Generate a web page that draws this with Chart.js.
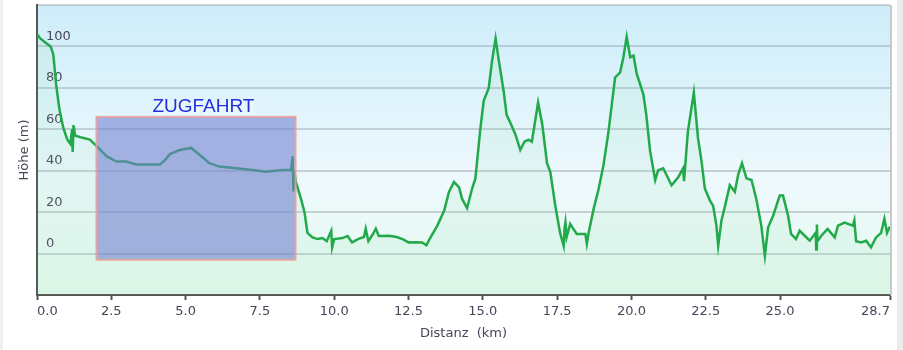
<!DOCTYPE html>
<html>
<head>
<meta charset="utf-8">
<script src="https://cdn.jsdelivr.net/npm/chart.js@4/dist/chart.umd.min.js"></script>
<style>
  html, body { margin: 0; padding: 0; background: #fff; }
</style>
</head>
<body>
<canvas id="profil-chart" width="903" height="350"></canvas>
<script>
// Höhenprofil: Distanz in km, Höhe in m
const distKm = [
  0.00, 0.10, 0.27, 0.46, 0.55, 0.64, 0.75, 0.88, 1.02, 1.12, 1.18, 1.20, 1.23, 1.28, 1.50, 1.78,
  2.00, 2.34, 2.67, 3.00, 3.35, 3.80, 4.13, 4.30, 4.47, 4.80, 5.19, 5.47, 5.80, 6.14, 6.70, 7.26,
  7.70, 8.26, 8.55, 8.60, 8.63, 8.66, 8.71, 8.88, 9.00, 9.10, 9.27, 9.44, 9.60, 9.75, 9.90, 9.93,
  10.00, 10.28, 10.45, 10.60, 10.80, 11.00, 11.06, 11.15, 11.30, 11.40, 11.50, 11.85, 12.10, 12.30,
  12.50, 12.70, 12.96, 13.10, 13.24, 13.47, 13.70, 13.86, 14.03, 14.20, 14.30, 14.47, 14.64, 14.75,
  14.92, 15.03, 15.20, 15.31, 15.43, 15.54, 15.70, 15.80, 15.93, 16.10, 16.26, 16.40, 16.54, 16.65,
  16.86, 17.00, 17.16, 17.27, 17.44, 17.60, 17.72, 17.75, 17.78, 17.82, 17.94, 18.16, 18.45, 18.50,
  18.56, 18.73, 18.90, 19.06, 19.23, 19.34, 19.45, 19.62, 19.73, 19.84, 19.96, 20.07, 20.18, 20.40,
  20.50, 20.63, 20.80, 20.90, 21.07, 21.35, 21.58, 21.74, 21.77, 21.90, 22.10, 22.24, 22.36, 22.47,
  22.64, 22.75, 22.86, 22.92, 23.03, 23.14, 23.31, 23.48, 23.59, 23.72, 23.87, 24.04, 24.20, 24.37,
  24.49, 24.60, 24.77, 24.99, 25.10, 25.27, 25.37, 25.54, 25.66, 25.83, 26.00, 26.20, 26.22, 26.24,
  26.26, 26.39, 26.60, 26.84, 26.95, 27.17, 27.45, 27.50, 27.56, 27.73, 27.90, 28.06, 28.23, 28.40,
  28.51, 28.60, 28.66, 28.70
];
const hoeheM = [
  106, 104, 102, 100, 96, 82, 70, 61, 55, 53, 60, 49, 62, 57, 56, 55,
  52, 47, 44.4, 44.4, 43, 43, 43, 45, 48, 50, 51, 47.7, 43.6, 42, 41.2, 40.3,
  39.5, 40.3, 40.3, 47, 30, 40, 34.6, 26.5, 20, 10, 7.8, 7, 7.5, 6, 11, 3,
  7, 7.5, 8.5, 5.4, 7, 8, 12, 6, 9.3, 12, 8.5, 8.6, 8, 7,
  5.4, 5.5, 5.4, 4, 7.8, 13.5, 20.8, 29.8, 34.6, 32, 26.5, 22, 31.4, 36.3,
  60.7, 73.7, 80, 93, 103.8, 93, 78.5, 67, 63, 57.4, 50, 54, 55, 54,
  72.9, 62.3, 43.6, 39.5, 23, 10, 3.8, 12, 15, 8, 14.3, 9.5, 9.5, 4.7,
  10, 21.7, 31.4, 42.8, 59, 72, 85, 87.5, 94.8, 104.6, 94.8, 95.6, 86.7, 77,
  67, 49.3, 35.5, 40.3, 41.2, 33, 37, 41.2, 35, 59, 77.7, 55.8, 44.4, 31.4,
  25.7, 23, 13.5, 3.8, 16, 22.4, 33, 29.8, 38, 43.6, 36.3, 35.5, 26.5, 13.5,
  -1, 12.7, 18.4, 28, 28, 18.4, 9.5, 7, 11, 8.6, 6.2, 10, 2, 14,
  6, 8.6, 11.9, 7.8, 13.5, 15, 13.5, 16, 6, 5.4, 6.2, 3, 7.8, 10,
  16.8, 10, 12, 13
];
const xTicks = [0, 2.5, 5, 7.5, 10, 12.5, 15, 17.5, 20, 22.5, 25, 28.7];
const yTicks = [-20, 0, 20, 40, 60, 80, 100, 120];

// Zugfahrt-Abschnitt
const zugLabel = "ZUGFAHRT";
const zugKm = [2.0, 8.7];
const zugHoehe = [-3, 66];
const zugTextKm = 5.6;

const textColor = "#4a4458";
Chart.defaults.font.family = "'DejaVu Sans', Verdana, sans-serif";
Chart.defaults.font.size = 13;
Chart.defaults.color = textColor;

const bgPlugin = {
  id: "bg",
  beforeDraw(chart) {
    const { ctx, chartArea: a } = chart;
    ctx.save();
    ctx.fillStyle = "#efefef";
    ctx.fillRect(0, 0, 3, chart.height);
    ctx.fillStyle = "#ececec";
    ctx.fillRect(897, 0, 6, chart.height);
    const g = ctx.createLinearGradient(0, a.top, 0, a.bottom);
    g.addColorStop(0, "#cdedfa");
    g.addColorStop(0.6, "#eef9fd");
    g.addColorStop(1, "#e6faee");
    ctx.fillStyle = g;
    ctx.fillRect(a.left, a.top, a.right - a.left, a.bottom - a.top);
    ctx.restore();
  },
  afterDraw(chart) {
    const { ctx, chartArea: a } = chart;
    ctx.save();
    ctx.strokeStyle = "#c9c9c9";
    ctx.lineWidth = 2;
    ctx.beginPath();
    ctx.moveTo(a.right + 1, a.top);
    ctx.lineTo(a.right + 1, a.bottom);
    ctx.stroke();
    ctx.restore();
  },
};

const zugPlugin = {
  id: "zug",
  afterDatasetsDraw(chart) {
    const { ctx } = chart;
    const x = chart.scales.x;
    const y = chart.scales.y;
    const left = x.getPixelForValue(zugKm[0]);
    const right = x.getPixelForValue(zugKm[1]);
    const top = y.getPixelForValue(zugHoehe[1]);
    const bottom = y.getPixelForValue(zugHoehe[0]);
    ctx.save();
    ctx.fillStyle = "rgba(112,126,206,0.58)";
    ctx.fillRect(left, top, right - left, bottom - top);
    ctx.strokeStyle = "rgba(236,160,150,0.85)";
    ctx.lineWidth = 2;
    ctx.strokeRect(left, top, right - left, bottom - top);

    ctx.font = "19px 'Liberation Sans', Arial, sans-serif";
    ctx.textAlign = "center";
    ctx.textBaseline = "alphabetic";
    ctx.shadowColor = "rgba(255,255,255,0.95)";
    ctx.shadowBlur = 3;
    ctx.shadowOffsetX = 2;
    ctx.shadowOffsetY = 2;
    ctx.fillStyle = "#2130e0";
    ctx.fillText(zugLabel, x.getPixelForValue(zugTextKm), top - 5);
    ctx.restore();
  },
};

const profilChart = document.querySelector("#profil-chart").getContext("2d");

new Chart(profilChart, {
  type: "line",
  data: {
    datasets: [
      {
        label: "Höhe",
        data: distKm.map((d, i) => ({ x: d, y: hoeheM[i] })),
        borderColor: "#21a94a",
        borderWidth: 2.5,
        backgroundColor: "rgba(130,220,160,0.11)",
        fill: "start",
        pointRadius: 0,
        tension: 0,
      },
    ],
  },
  options: {
    responsive: false,
    animation: false,
    layout: { padding: { left: 0, top: 5, right: 13, bottom: 0 } },
    plugins: {
      legend: { display: false },
      tooltip: { enabled: false },
    },
    scales: {
      x: {
        type: "linear",
        min: 0,
        max: 28.7,
        afterBuildTicks: (s) => {
          s.ticks = xTicks.map((v) => ({ value: v }));
        },
        afterFit: (s) => {
          s.height = 55;
          s.paddingLeft = 0;
          s.paddingRight = 0;
        },
        ticks: {
          align: "inner",
          padding: 4,
          autoSkip: false,
          maxRotation: 0,
          callback: (v) => Number(v).toFixed(1),
        },
        grid: { drawOnChartArea: false, tickLength: 5, tickColor: "#555", tickWidth: 2 },
        border: { color: "#555", width: 2 },
        title: { display: true, text: "Distanz  (km)", padding: { top: 0, bottom: 9 } },
      },
      y: {
        min: -20,
        max: 120,
        afterBuildTicks: (s) => {
          s.ticks = yTicks.map((v) => ({ value: v }));
        },
        afterFit: (s) => {
          s.width = 37;
          s.paddingTop = 0;
          s.paddingBottom = 0;
        },
        ticks: {
          mirror: true,
          padding: 9,
          labelOffset: -10,
          callback: (v) => (v < 0 || v > 100 ? "" : v),
        },
        grid: { color: "rgba(110,120,130,0.3)", lineWidth: 2, drawTicks: false },
        border: { color: "#555", width: 2 },
        title: { display: true, text: "Höhe (m)", padding: { top: 17, bottom: 0 } },
      },
    },
  },
  plugins: [bgPlugin, zugPlugin],
});
</script>
</body>
</html>
